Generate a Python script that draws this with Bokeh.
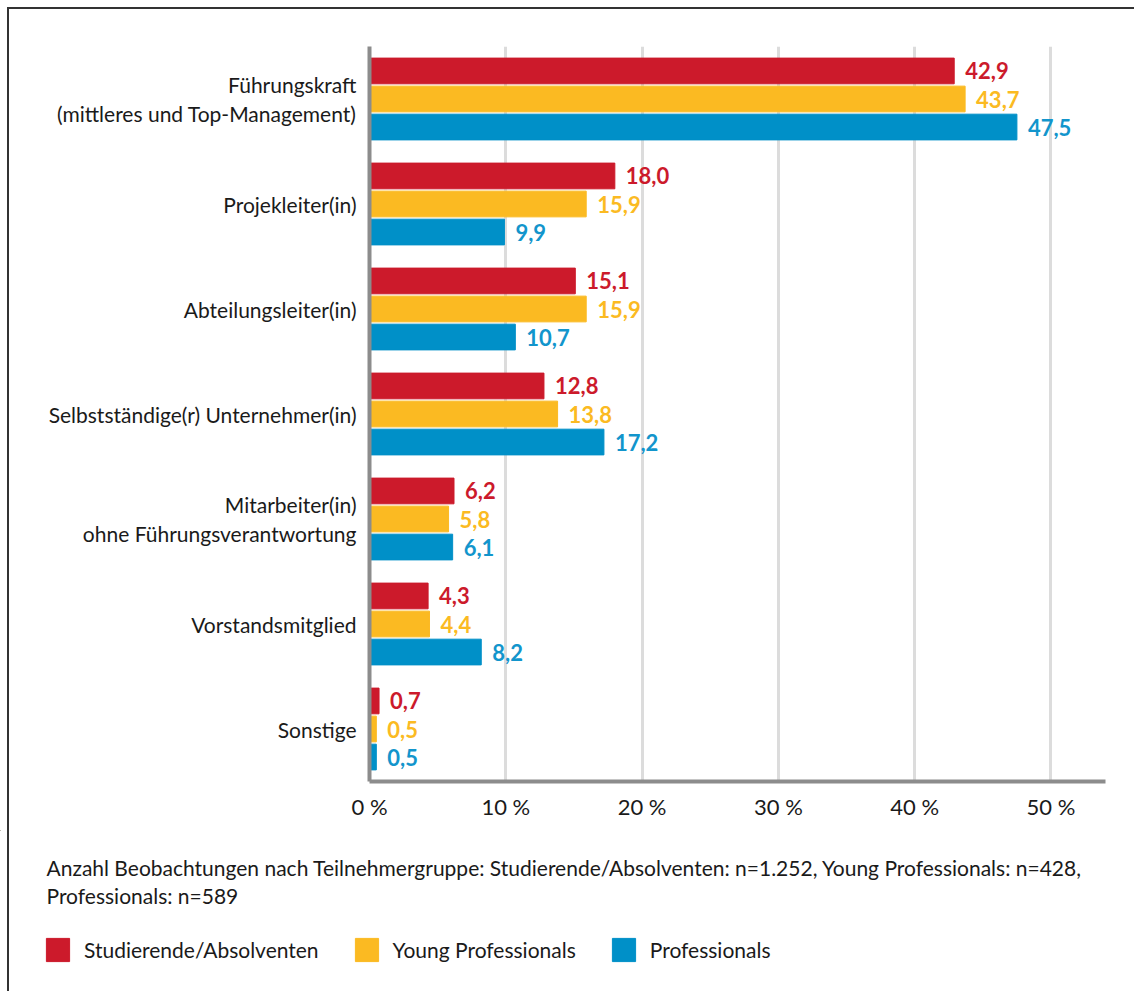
from bokeh.plotting import figure
from bokeh.layouts import column
from bokeh.models import (FactorRange, Range1d, ColumnDataSource, FixedTicker, Label,
                          Legend, LegendItem)
from bokeh.transform import dodge
from bokeh.core.properties import value
from bokeh.embed import file_html
from bokeh.resources import INLINE

categories = [
    "Führungskraft\n(mittleres und Top-Management)",
    "Projekleiter(in)",
    "Abteilungsleiter(in)",
    "Selbstständige(r) Unternehmer(in)",
    "Mitarbeiter(in)\nohne Führungsverantwortung",
    "Vorstandsmitglied",
    "Sonstige",
]
studierende = [42.9, 18.0, 15.1, 12.8, 6.2, 4.3, 0.7]
young_prof = [43.7, 15.9, 15.9, 13.8, 5.8, 4.4, 0.5]
professionals = [47.5, 9.9, 10.7, 17.2, 6.1, 8.2, 0.5]
series_names = ["Studierende/Absolventen", "Young Professionals", "Professionals"]
series_colors = ["#cc1a2b", "#fbba22", "#0090c8"]
label_colors = ["#cc1a2b", "#fbba22", "#1295cc"]
x_ticks = [0, 10, 20, 30, 40, 50]
footnote = ["Anzahl Beobachtungen nach Teilnehmergruppe: Studierende/Absolventen: n=1.252, Young Professionals: n=428,",
            "Professionals: n=589"]

FONT = "Lato"
TXT = "#1a1a1a"

# ---------------- main chart ----------------
p = figure(width=1134, height=830,
           y_range=FactorRange(factors=list(reversed(categories))),
           x_range=Range1d(0, 54.0),
           output_backend="svg", toolbar_location=None,
           min_border_left=369, min_border_top=46, min_border_right=29, min_border_bottom=49)
p.frame_align = False
p.outline_line_color = None
p.background_fill_alpha = 0
p.border_fill_alpha = 0

src = ColumnDataSource(dict(
    cat=categories,
    s0=studierende, s1=young_prof, s2=professionals,
    l0=[f"{v:.1f}".replace(".", ",") for v in studierende],
    l1=[f"{v:.1f}".replace(".", ",") for v in young_prof],
    l2=[f"{v:.1f}".replace(".", ",") for v in professionals],
))

offsets = [0.267, 0.0, -0.267]
for i, (off, col) in enumerate(zip(offsets, series_colors)):
    p.hbar(y=dodge("cat", off, range=p.y_range), right=f"s{i}", left=0, height=0.245,
           color=col, source=src)
    p.text(x=f"s{i}", y=dodge("cat", off, range=p.y_range), text=f"l{i}", source=src,
           x_offset=11, text_baseline="middle", text_align="left",
           text_font=value(FONT), text_font_style="bold", text_font_size="22px",
           text_color=label_colors[i])

p.xaxis.ticker = FixedTicker(ticks=x_ticks)
p.xaxis.major_label_overrides = {t: f"{t} %" for t in x_ticks}
for ax in (p.xaxis[0], p.yaxis[0]):
    ax.axis_line_color = "#8c8c8c"
    ax.axis_line_width = 4
    ax.major_tick_line_color = None
    ax.minor_tick_line_color = None
    ax.major_label_text_font = FONT
    ax.major_label_text_color = TXT
p.xaxis.major_label_text_font_size = "22px"
p.yaxis.major_label_text_font_size = "21px"
p.yaxis.major_label_text_line_height = 1.18
p.xaxis.major_label_standoff = 5
p.yaxis.major_label_standoff = 7
p.ygrid.grid_line_color = None
p.xgrid.grid_line_color = "#dcdcdc"
p.xgrid.grid_line_width = 3

# ---------------- footnote + legend ----------------
p2 = figure(width=1134, height=161, x_range=Range1d(0, 1134), y_range=Range1d(991, 830),
            x_axis_type=None, y_axis_type=None, output_backend="svg", toolbar_location=None,
            min_border=0)
p2.frame_align = False
p2.outline_line_color = None
p2.background_fill_alpha = 0
p2.border_fill_alpha = 0
p2.grid.visible = False

for k, line in enumerate(footnote):
    p2.add_layout(Label(x=46, y=867 + 28 * k, text=line, text_font=FONT,
                        text_font_size="21px", text_color=TXT, text_baseline="alphabetic"))

# legend proxies: zero-size bars outside the visible range
items = []
for name, col in zip(series_names, series_colors):
    r = p2.hbar(y=[0], right=[0], left=0, height=0, color=col)
    items.append(LegendItem(label=name, renderers=[r]))
legend = Legend(items=items, location=(43, 27), orientation="horizontal",
                glyph_width=29, glyph_height=29, label_standoff=12, spacing=33,
                padding=0, margin=0, border_line_color=None, background_fill_alpha=0,
                label_text_font=FONT, label_text_font_size="21px", label_text_color=TXT,
                label_height=29)
p2.add_layout(legend)

bg = ("linear-gradient(#333,#333) 7px 7px / 2px 100% no-repeat, "
      "linear-gradient(#333,#333) 7px 7px / 100% 2px no-repeat, #ffffff")
layout = column(p, p2, spacing=0, styles={"background": bg})

open("out.html", "w").write(file_html(layout, INLINE))
